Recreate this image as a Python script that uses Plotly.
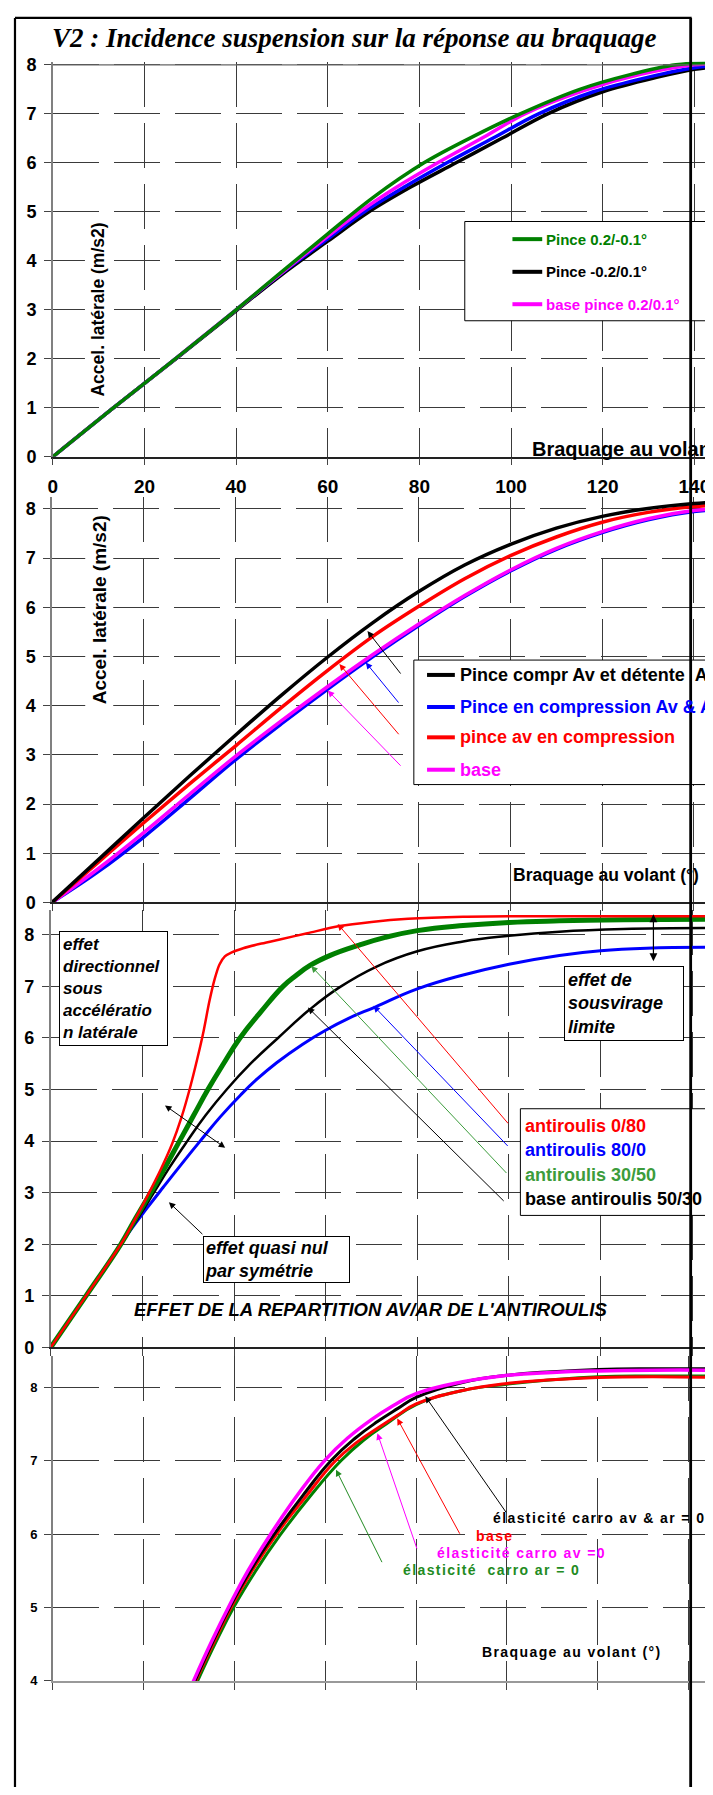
import plotly.graph_objects as go

# the page body keeps its default 8px margin: the figure sits at (8, 8) of the window
OX, OY = 8, 8
FW, FH = 705, 1779
REF_W = 713

SANS = "Liberation Sans, Arial, sans-serif"
SERIF = "Liberation Serif, Times New Roman, serif"

GREEN = "#008000"
LGREEN = "#3c9c3c"
DGREEN = "#228b22"
BLUE = "#0000ff"
RED = "#ff0000"
MAG = "#ff00ff"
BLACK = "#000000"

# ---------------- data : panel 1 (pince) ----------------
p1_names = ["Pince 0.2/-0.1°", "Pince -0.2/0.1°", "base pince 0.2/0.1°"]
p1_green_x = [0, 13, 27, 40, 50, 60, 70, 81, 92, 102, 115, 126, 136, 145]
p1_green_y = [0, 0.98, 2.02, 3.0, 3.78, 4.55, 5.3, 6.0, 6.55, 7.0, 7.5, 7.8, 8.0, 8.05]
p1_mag_x = [0, 13, 27, 40, 50, 60, 67, 75, 84, 94, 103, 116, 128, 140, 145]
p1_mag_y = [0, 0.98, 2.02, 3, 3.76, 4.5, 5.0, 5.5, 6.0, 6.52, 7.0, 7.48, 7.8, 8.0, 8.03]
p1_blue_x = [0, 13, 27, 40, 50, 60, 68, 77, 86, 96, 106, 118, 130, 140, 145]
p1_blue_y = [0, 0.98, 2.02, 3, 3.75, 4.45, 5.0, 5.52, 6.0, 6.5, 7.0, 7.45, 7.75, 7.94, 7.98]
p1_black_x = [0, 13, 27, 40, 50, 60, 69, 78, 88, 98, 108, 120, 132, 140, 145]
p1_black_y = [0, 0.98, 2.01, 2.98, 3.72, 4.4, 5.0, 5.5, 6.0, 6.5, 7.0, 7.45, 7.75, 7.91, 7.96]

# ---------------- data : panel 2 (pince compression) ----------------
p2_names = ["Pince compr Av et détente\u00a0\u00a0Ar", "Pince en compression Av &amp; Ar",
            "pince av en compression", "base"]
p2_x = [0, 10, 20, 30, 40, 50, 60, 70, 80, 90, 100, 110, 120, 130, 140, 145]
p2_black_y = [0, 0.86, 1.72, 2.57, 3.40, 4.21, 4.98, 5.69, 6.32, 6.86, 7.28, 7.61, 7.85,
              8.01, 8.11, 8.14]
p2_red_y = [0, 0.81, 1.62, 2.41, 3.18, 3.96, 4.71, 5.41, 6.02, 6.58, 7.05, 7.43, 7.73,
            7.93, 8.05, 8.08]
p2_mag_y = [0, 0.68, 1.42, 2.20, 2.97, 3.69, 4.38, 5.04, 5.66, 6.24, 6.76, 7.20, 7.54,
            7.80, 7.97, 8.0]
p2_blue_y = [0, 0.62, 1.33, 2.11, 2.90, 3.63, 4.33, 5.0, 5.63, 6.22, 6.74, 7.18, 7.52,
             7.78, 7.95, 7.98]

# ---------------- data : panel 3 (antiroulis) ----------------
p3_names = ["antiroulis 0/80", "antiroulis 80/0", "antiroulis 30/50", "base antiroulis 50/30"]
p3_red_x = [0, 7.7, 15.3, 18, 21, 24, 26.5, 28.5, 30.3, 32, 33.4, 34.6, 35.8, 36.8, 38,
            39.5, 42, 46, 50, 56, 63, 70, 78, 90, 100, 120, 145]
p3_red_y = [0, 1, 2, 2.42, 2.92, 3.45, 3.95, 4.45, 5.0, 5.6, 6.15, 6.7, 7.15, 7.42, 7.58,
            7.66, 7.74, 7.83, 7.91, 8.03, 8.17, 8.25, 8.31, 8.35, 8.36, 8.36, 8.36]
p3_blue_x = [0, 7.7, 15.3, 18.2, 21, 24.5, 28.5, 32.6, 37, 41.5, 45, 49.3, 55, 60, 65,
             70.8, 80, 90, 100, 111, 120, 130, 145]
p3_blue_y = [0, 1, 2, 2.37, 2.7, 3.1, 3.55, 4.0, 4.47, 4.9, 5.2, 5.52, 5.88, 6.15, 6.38,
             6.6, 6.95, 7.22, 7.43, 7.6, 7.69, 7.74, 7.76]
p3_green_x = [0, 7.7, 15.3, 18.5, 21.8, 25, 28.1, 31.2, 34.3, 37.7, 41.3, 45.8, 50.7, 53.4,
              56.5, 61, 67.3, 73, 80, 90, 100, 111, 125, 145]
p3_green_y = [0, 1, 2, 2.5, 3, 3.5, 4, 4.5, 5, 5.5, 6, 6.5, 7, 7.2, 7.4, 7.6, 7.8, 7.95,
              8.08, 8.18, 8.24, 8.27, 8.29, 8.3]
p3_black_x = [0, 7.7, 15.3, 19, 22.5, 26, 29.8, 33.8, 38.4, 43.6, 49.6, 56.5, 63, 71, 80,
              90, 100, 111, 125, 145]
p3_black_y = [0, 1, 2, 2.5, 3, 3.5, 4, 4.5, 5.0, 5.5, 6.0, 6.55, 6.98, 7.38, 7.68, 7.87,
              7.98, 8.06, 8.11, 8.13]

# ---------------- data : panel 4 (élasticité carrosserie) ----------------
p4_names = ["élasticité carro av &amp; ar = 0", "base", "élasticité carro av =0",
            "élasticité\u00a0\u00a0carro ar = 0"]
p4_mag_x = [27.5, 31, 35, 39, 43, 48, 54, 60, 65, 70, 75, 80, 90, 100, 110, 120, 132, 145.4]
p4_mag_y = [3.5, 4.0, 4.54, 5.04, 5.5, 6.0, 6.54, 7.01, 7.31, 7.55, 7.75, 7.91, 8.07, 8.16,
            8.2, 8.22, 8.23, 8.23]
p4_black_x = [27.8, 31.3, 35.3, 39.3, 43.5, 48.8, 55, 61.3, 66.5, 71.5, 76, 80, 90, 100, 110,
              120, 132, 145.4]
p4_black_y = [3.5, 4.0, 4.54, 5.04, 5.5, 6.0, 6.52, 7.0, 7.3, 7.53, 7.71, 7.86, 8.06, 8.16,
              8.21, 8.24, 8.25, 8.25]
p4_red_x = [28, 31.5, 35.6, 39.6, 43.9, 49.3, 55.6, 62, 67, 72, 76, 80, 90, 100, 110, 120,
            132, 145.4]
p4_red_y = [3.5, 4.0, 4.54, 5.04, 5.5, 6.0, 6.5, 6.98, 7.25, 7.46, 7.62, 7.77, 7.95, 8.05,
            8.1, 8.13, 8.14, 8.13]
p4_green_x = [28.4, 31.9, 36, 40, 44.5, 50, 56.5, 63.5, 68.5, 73.5, 80, 90, 100, 110, 120,
              132, 145.4]
p4_green_y = [3.5, 4.0, 4.54, 5.02, 5.48, 5.98, 6.5, 7.0, 7.28, 7.5, 7.76, 7.95, 8.04, 8.1,
              8.14, 8.15, 8.15]

x_ticks = [0, 20, 40, 60, 80, 100, 120, 140]


def px(xp):
    return (xp - OX) / FW


def py(yp):
    return 1 - (yp - OY) / FH


# ---------------- panel geometry (reference pixels) ----------------
panels = [
    dict(x0=48.1, ppd=4.615, ybot=454.0, ppu=49.46, ymin=0, top=55.3),
    dict(x0=47.3, ppd=4.6175, ybot=904.0, ppu=49.66, ymin=0, top=495.0),
    dict(x0=46.0, ppd=4.615, ybot=1353.3, ppu=52.08, ymin=0, top=911.7),
    dict(x0=48.0, ppd=4.575, ybot=1690.0, ppu=74.17, ymin=4, top=1361.7),
]

fig = go.Figure()


def add_line(i, x, y, color, width, name, smoothing=1.0):
    sfx = "" if i == 0 else str(i + 1)
    fig.add_trace(go.Scatter(x=x, y=y, mode="lines", name=name, showlegend=False,
                             line=dict(color=color, width=width, shape="spline",
                                       smoothing=smoothing),
                             xaxis="x" + sfx, yaxis="y" + sfx, hoverinfo="skip"))


add_line(0, p1_black_x, p1_black_y, BLACK, 3.5, p1_names[1])
add_line(0, p1_blue_x, p1_blue_y, BLUE, 3.5, "bleu")
add_line(0, p1_mag_x, p1_mag_y, MAG, 3.5, p1_names[2])
add_line(0, p1_green_x, p1_green_y, GREEN, 3.5, p1_names[0])
add_line(1, p2_x, p2_blue_y, BLUE, 3.5, p2_names[1])
add_line(1, p2_x, p2_mag_y, MAG, 3.5, p2_names[3])
add_line(1, p2_x, p2_red_y, RED, 3.5, p2_names[2])
add_line(1, p2_x, p2_black_y, BLACK, 3.5, p2_names[0])
add_line(2, p3_blue_x, p3_blue_y, BLUE, 3, p3_names[1], 1.3)
add_line(2, p3_black_x, p3_black_y, BLACK, 2.5, p3_names[3], 1.3)
add_line(2, p3_green_x, p3_green_y, GREEN, 5, p3_names[2], 1.3)
add_line(2, p3_red_x, p3_red_y, RED, 2.5, p3_names[0], 0.8)
add_line(3, p4_green_x, p4_green_y, GREEN, 3, p4_names[3], 1.3)
add_line(3, p4_red_x, p4_red_y, RED, 3, p4_names[1], 1.3)
add_line(3, p4_black_x, p4_black_y, BLACK, 3, p4_names[0], 1.3)
add_line(3, p4_mag_x, p4_mag_y, MAG, 3.5, p4_names[2], 1.3)

GRIDC = "#3a3a3a"
layout = dict(width=FW, height=FH, margin=dict(l=0, r=0, t=0, b=0),
              paper_bgcolor="white", plot_bgcolor="rgba(0,0,0,0)", showlegend=False)

for i, p in enumerate(panels):
    sfx = "" if i == 0 else str(i + 1)
    xmax = (REF_W - p["x0"]) / p["ppd"]
    ymax = p["ymin"] + (p["ybot"] - p["top"]) / p["ppu"]
    last = i == 3
    layout["xaxis" + sfx] = dict(
        domain=[px(p["x0"]), 1], range=[0, xmax], anchor="y" + sfx,
        tickmode="array", tickvals=x_ticks, ticktext=[str(v) for v in x_ticks],
        showticklabels=(i == 0), ticks="outside", ticklen=7, tickcolor="#444",
        tickfont=dict(family=SANS, size=19, color="black", weight="bold"),
        ticklabelstandoff=5,
        showline=True, linecolor="#999" if last else "#222", linewidth=2 if last else 1.5,
        showgrid=True, gridcolor=GRIDC, gridwidth=1, griddash="45px,16px",
        zeroline=False, fixedrange=True)
    layout["yaxis" + sfx] = dict(
        domain=[py(p["ybot"]), py(p["top"])], range=[p["ymin"], ymax],
        anchor="x" + sfx, tick0=0, dtick=1, ticks="outside", ticklen=7, tickcolor="#444",
        tickfont=dict(family=SANS, size=13 if last else 18, color="black", weight="bold"),
        ticklabelstandoff=4,
        showline=True, linecolor="#808080", linewidth=1.5,
        showgrid=True, gridcolor=GRIDC, gridwidth=1, griddash="46px,15px",
        zeroline=False, fixedrange=True)

fig.update_layout(**layout)

shapes = []
annotations = []


def hline(x0, x1, y, color="black", width=1):
    shapes.append(dict(type="line", xref="paper", yref="paper", x0=px(x0), x1=px(x1),
                       y0=py(y), y1=py(y), line=dict(color=color, width=width), layer="above"))


def vline(x, y0, y1, color="black", width=1):
    shapes.append(dict(type="line", xref="paper", yref="paper", x0=px(x), x1=px(x),
                       y0=py(y0), y1=py(y1), line=dict(color=color, width=width), layer="above"))


def rect(x0, y0, x1, y1, width=1):
    shapes.append(dict(type="rect", xref="paper", yref="paper", x0=px(x0), x1=px(x1),
                       y0=py(y0), y1=py(y1), line=dict(color="black", width=width),
                       fillcolor="white", layer="above"))


def text(x, y, s, size, color="black", xanchor="left", bold=True, italic=False,
         family=SANS, **kw):
    annotations.append(dict(x=px(x), y=py(y), xref="paper", yref="paper", text=s,
                            showarrow=False, xanchor=xanchor, yanchor="middle",
                            font=dict(family=family, size=size, color=color,
                                      weight="bold" if bold else "normal",
                                      style="italic" if italic else "normal"), **kw))


def arrow(tip, tail, color, width=1, side="end"):
    annotations.append(dict(x=px(tip[0]), y=py(tip[1]), xref="paper", yref="paper",
                            ax=tail[0] - tip[0], ay=tail[1] - tip[1], axref="pixel",
                            ayref="pixel", text="", showarrow=True, arrowcolor=color,
                            arrowwidth=width, arrowhead=2, arrowsize=1.3, arrowside=side,
                            standoff=0, startstandoff=0))


def spaced(s, sp=1.4):
    return '<span style="letter-spacing:%spx">%s</span>' % (sp, s)


# solid top border of panel 1
hline(48, 713, 454 - 8 * 49.46, "#666", 1.2)

# ---------------- titles ----------------
text(351.6, 31.7, "V2 : Incidence suspension sur la réponse au braquage", 27,
     xanchor="center", italic=True, family=SERIF)
annotations.append(dict(x=px(80), y=py(213), xref="paper", yref="paper",
                        text="Accel. latérale (m/s2)", showarrow=False, textangle=-90,
                        bgcolor="white", borderpad=3,
                        font=dict(family=SANS, size=17.5, color="black", weight="bold")))
annotations.append(dict(x=px(80), y=py(608), xref="paper", yref="paper",
                        text="Accel. latérale (m/s2)", showarrow=False, textangle=-90,
                        bgcolor="white", borderpad=3,
                        font=dict(family=SANS, size=19, color="black", weight="bold")))
text(528.8, 446, "Braquage au volant (°)", 20)
text(509.3, 876.7, "Braquage au volant (°)", 17.5)

# ---------------- legend panel 1 ----------------
rect(463, 216.5, 730, 316.7)
for yy, name, col in zip([234.3, 267.3, 300.0], p1_names, [GREEN, BLACK, MAG]):
    hline(511, 541, yy, col, 4)
    text(542.7, yy, name, 15, col)

# ---------------- legend panel 2 ----------------
rect(411.7, 659.3, 730, 785)
for yy, name, col in zip([674.3, 706.7, 737.3, 770.0], p2_names, [BLACK, BLUE, RED, MAG]):
    hline(425, 453, yy, col, 4)
    text(456, yy, name, 18, col)

arrow((365, 630), (399.3, 674), BLACK)
arrow((363.3, 661.7), (397.3, 703.3), BLUE)
arrow((336.7, 663.3), (397.3, 735), RED)
arrow((325, 690), (399.3, 766.7), MAG)

# ---------------- panel 3 ----------------
rect(519, 1112.3, 709, 1220)
for yy, name, col in zip([1130, 1154, 1179.3, 1203.3], p3_names, [RED, BLUE, LGREEN, BLACK]):
    text(522, yy, name, 18, col)

arrow((335, 925.7), (506.7, 1126.7), RED)
arrow((371, 1008.3), (506.7, 1150), BLUE)
arrow((308.3, 968.3), (505, 1176.7), LGREEN)
arrow((305, 1010), (502.3, 1205), BLACK)
arrow((221.7, 1151.7), (160, 1108.3), BLACK, side="end+start")
arrow((165, 1206.7), (200, 1240), BLACK)
arrow((653, 963.3), (653, 915), BLACK, width=1.2, side="end+start")

annotations.append(dict(x=px(54.3), y=py(932.7), xref="paper", yref="paper",
                        xanchor="left", yanchor="top", align="left", showarrow=False,
                        text="effet<br>directionnel<br>sous<br>accélératio<br>n latérale",
                        width=101, bgcolor="white", bordercolor="black", borderwidth=1,
                        borderpad=3,
                        font=dict(family=SANS, size=17, color="black", weight="bold",
                                  style="italic")))
annotations.append(dict(x=px(563), y=py(968.3), xref="paper", yref="paper",
                        xanchor="left", yanchor="top", align="left", showarrow=False,
                        text="effet de<br>sousvirage<br>limite",
                        width=112, bgcolor="white", bordercolor="black", borderwidth=1,
                        borderpad=3,
                        font=dict(family=SANS, size=18, color="black", weight="bold",
                                  style="italic")))
annotations.append(dict(x=px(199), y=py(1241), xref="paper", yref="paper",
                        xanchor="left", yanchor="top", align="left", showarrow=False,
                        text="effet quasi nul<br>par symétrie",
                        width=143, bgcolor="white", bordercolor="black", borderwidth=1,
                        borderpad=1,
                        font=dict(family=SANS, size=18, color="black", weight="bold",
                                  style="italic")))
text(368, 1315, "EFFET DE LA REPARTITION AV/AR DE L'ANTIROULIS", 18.5, xanchor="center",
     italic=True)

# ---------------- panel 4 ----------------
text(489, 1525, spaced(p4_names[0]), 14, BLACK)
text(472.7, 1543.3, spaced(p4_names[1]), 14, RED)
text(432.7, 1560.7, spaced(p4_names[2]), 14, MAG)
text(399, 1577.7, spaced(p4_names[3]), 14, DGREEN)
text(478.3, 1660.7, spaced("Braquage au volant (°)"), 14, BLACK)

arrow((423.3, 1402.7), (505, 1520), BLACK)
arrow((395, 1425), (458.3, 1541.7), RED)
arrow((375, 1440), (415, 1556.7), MAG)
arrow((333.3, 1476.7), (380, 1570.7), DGREEN)

# ---------------- outer frame ----------------
vline(10, 11, 1800, "black", 2.2)
hline(10, 691.5, 11, "black", 2.2)
vline(690.5, 11, 1800, "black", 2.8)

fig.update_layout(shapes=shapes, annotations=annotations)
fig.write_html("out.html")
